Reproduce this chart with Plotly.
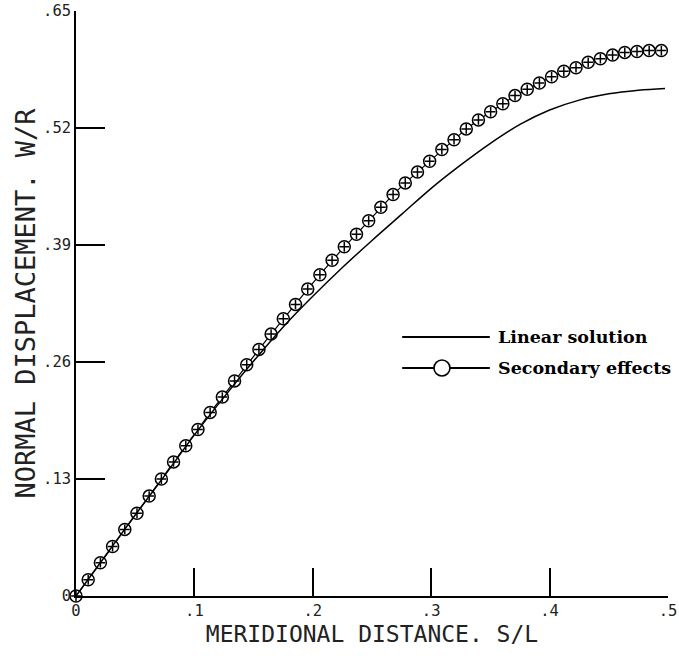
import plotly.graph_objects as go

# Secondary effects (circles)
sec_x = [0.0, 0.0103, 0.0206, 0.0309, 0.0412, 0.0515, 0.0618, 0.0721, 0.0824, 0.0927,
         0.1030, 0.1133, 0.1236, 0.1339, 0.1442, 0.1545, 0.1648, 0.1751, 0.1854, 0.1957,
         0.2060, 0.2163, 0.2266, 0.2369, 0.2472, 0.2575, 0.2678, 0.2781, 0.2884, 0.2987,
         0.3090, 0.3193, 0.3296, 0.3399, 0.3502, 0.3605, 0.3708, 0.3811, 0.3914, 0.4017,
         0.4120, 0.4223, 0.4326, 0.4429, 0.4532, 0.4635, 0.4738, 0.4841, 0.4944]
sec_y = [0.0, 0.018, 0.037, 0.055, 0.074, 0.092, 0.111, 0.130, 0.149, 0.167,
         0.185, 0.204, 0.221, 0.239, 0.257, 0.274, 0.291, 0.308, 0.324, 0.341,
         0.357, 0.373, 0.388, 0.402, 0.417, 0.432, 0.446, 0.459, 0.471, 0.483,
         0.496, 0.507, 0.519, 0.529, 0.538, 0.547, 0.556, 0.563, 0.570, 0.577,
         0.583, 0.587, 0.593, 0.597, 0.601, 0.604, 0.605, 0.606, 0.606]

# Linear solution (solid line)
lin_x = [0.0, 0.025, 0.05, 0.075, 0.1, 0.125, 0.15, 0.175, 0.2, 0.225, 0.25, 0.275,
         0.3, 0.325, 0.35, 0.375, 0.4, 0.425, 0.45, 0.475, 0.4975]
lin_y = [0.0, 0.045, 0.090, 0.134, 0.179, 0.221, 0.261, 0.299, 0.333, 0.365, 0.395, 0.424,
         0.453, 0.479, 0.503, 0.524, 0.540, 0.551, 0.558, 0.562, 0.564]

x_ticks = [0, 0.1, 0.2, 0.3, 0.4, 0.5]
x_ticktext = ["0", ".1", ".2", ".3", ".4", ".5"]
y_ticks = [0, 0.13, 0.26, 0.39, 0.52, 0.65]
y_ticktext = ["0", ".13", ".26", ".39", ".52", ".65"]

series_names = ["Linear solution", "Secondary effects"]

mono = "DejaVu Sans Mono"
serif = "DejaVu Serif"

fig = go.Figure()

fig.add_trace(go.Scatter(
    x=sec_x, y=sec_y, mode="lines+markers", name=series_names[1],
    line=dict(color="black", width=1.2),
    marker=dict(symbol="circle", size=12, color="white",
                line=dict(color="black", width=1.5)),
    cliponaxis=False, showlegend=False))
fig.add_trace(go.Scatter(
    x=sec_x, y=sec_y, mode="markers",
    marker=dict(symbol="cross-thin-open", size=7, color="black",
                line=dict(color="black", width=1.5)),
    cliponaxis=False, showlegend=False, hoverinfo="skip"))
fig.add_trace(go.Scatter(
    x=lin_x, y=lin_y, mode="lines", name=series_names[0],
    line=dict(color="black", width=1.5, shape="spline"),
    cliponaxis=False, showlegend=False))

# Manual legend (long sample lines as in the original)
lx0, lx1 = 0.551, 0.699
ly1, ly2 = 0.4427, 0.3897
shapes = [
    dict(type="line", xref="paper", yref="paper", x0=lx0, x1=lx1, y0=ly1, y1=ly1,
         line=dict(color="black", width=2)),
    dict(type="line", xref="paper", yref="paper", x0=lx0, x1=lx1, y0=ly2, y1=ly2,
         line=dict(color="black", width=2)),
    dict(type="circle", xref="paper", yref="paper", xsizemode="pixel", ysizemode="pixel",
         xanchor=0.6182, yanchor=ly2, x0=-8, x1=8, y0=-8, y1=8,
         fillcolor="white", line=dict(color="black", width=1.6)),
]
annotations = [
    dict(text="<b>" + series_names[0] + "</b>", xref="paper", yref="paper",
         x=0.709, y=ly1, xanchor="left", yanchor="middle", showarrow=False,
         font=dict(family=serif, size=17.5, color="black")),
    dict(text="<b>" + series_names[1] + "</b>", xref="paper", yref="paper",
         x=0.709, y=ly2, xanchor="left", yanchor="middle", showarrow=False,
         font=dict(family=serif, size=17.5, color="black")),
]

fig.update_layout(
    width=679, height=656,
    margin=dict(l=76, r=11, t=11, b=60, autoexpand=False),
    paper_bgcolor="white", plot_bgcolor="white",
    shapes=shapes, annotations=annotations,
    showlegend=False,
    xaxis=dict(
        range=[0, 0.5], showgrid=False, zeroline=False, automargin=False,
        showline=True, linecolor="black", linewidth=1.6,
        ticks="inside", ticklen=28, tickwidth=1.5, tickcolor="black",
        tickvals=x_ticks, ticktext=x_ticktext, ticklabeloverflow="allow",
        tickfont=dict(family=mono, size=15.5, color="#222"),
        title=dict(text="MERIDIONAL DISTANCE. S/L", standoff=6,
                   font=dict(family=mono, size=23, color="#222")),
    ),
    yaxis=dict(
        range=[0, 0.65], showgrid=False, zeroline=False, automargin=False,
        showline=True, linecolor="black", linewidth=1.6,
        ticks="inside", ticklen=29, tickwidth=1.5, tickcolor="black",
        tickvals=y_ticks, ticktext=y_ticktext, ticklabeloverflow="allow",
        tickfont=dict(family=mono, size=15.5, color="#222"),
        title=dict(text="NORMAL DISPLACEMENT. W/R", standoff=0,
                   font=dict(family=mono, size=27, color="#222")),
    ),
)

# remove the default 8px page margin so the figure fills the window exactly
fig.write_html("out.html",
               config={"displayModeBar": False},
               post_script="document.body.style.margin='0';document.body.style.overflow='hidden';")
